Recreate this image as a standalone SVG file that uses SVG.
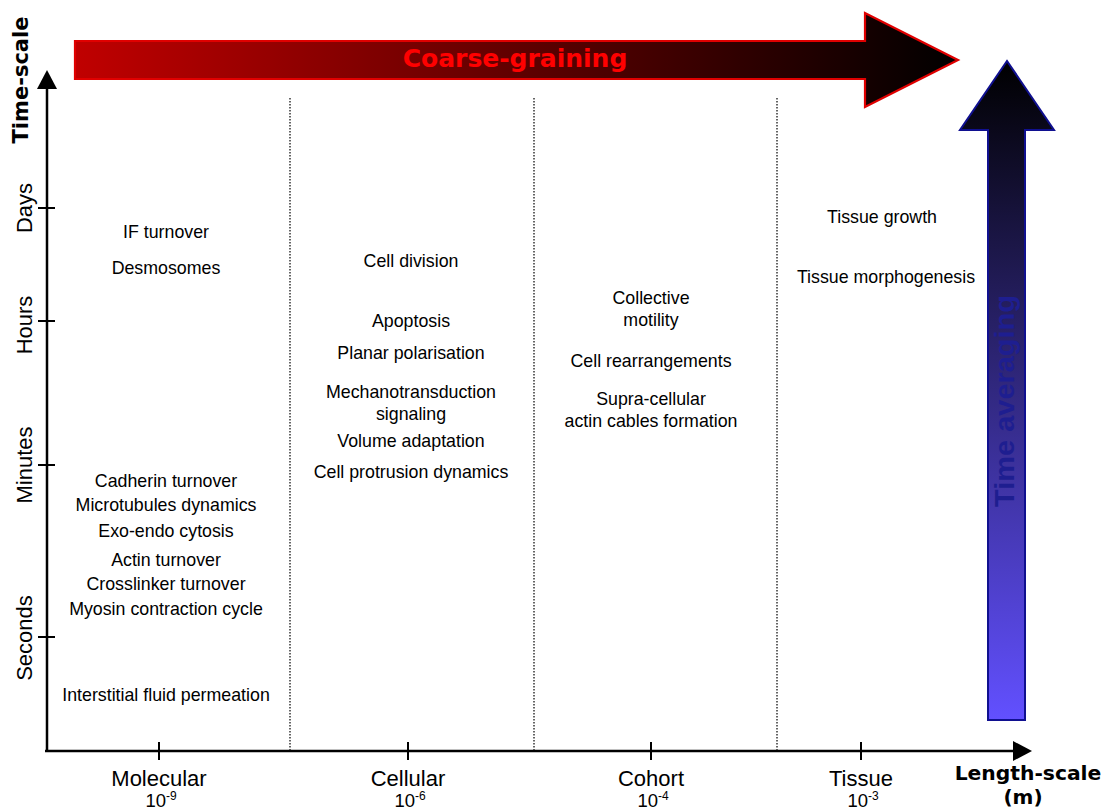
<svg xmlns="http://www.w3.org/2000/svg" width="1109" height="811" viewBox="0 0 1109 811">
<defs>
<linearGradient id="gRed" gradientUnits="userSpaceOnUse" x1="75" y1="0" x2="958" y2="0">
<stop offset="0" stop-color="#c00000"/>
<stop offset="1" stop-color="#000000"/>
</linearGradient>
<linearGradient id="gBlue" gradientUnits="userSpaceOnUse" x1="0" y1="61" x2="0" y2="720">
<stop offset="0" stop-color="#000000"/>
<stop offset="1" stop-color="#6250ff"/>
</linearGradient>
</defs>
<style>
.t{font-family:"Liberation Sans",Arial,sans-serif;font-size:17.8px;fill:#000;text-anchor:middle}
.ax{font-family:"Liberation Sans",Arial,sans-serif;font-size:22px;fill:#000;text-anchor:middle}
.ex{font-family:"Liberation Sans",Arial,sans-serif;font-size:18.5px;fill:#000;text-anchor:middle}
.bd{font-family:"DejaVu Sans",Verdana,sans-serif;font-weight:bold;fill:#000;text-anchor:middle}
.dot{stroke:#333;stroke-width:1.5;stroke-dasharray:1.5 1.5;fill:none}
.axis{stroke:#000;stroke-width:2.5;fill:none}
.tick{stroke:#000;stroke-width:2;fill:none}
</style>
<rect width="1109" height="811" fill="#fff"/>

<g id="coarse-graining">
<polygon points="75,41 865,41 865,13 958,60 865,107 865,79 75,79" fill="url(#gRed)" stroke="#e00000" stroke-width="2.2" stroke-linejoin="miter"/>
<text x="515" y="67" class="bd" style="font-size:25px;fill:#ff0000">Coarse-graining</text>
</g>

<g id="time-averaging">
<polygon points="988,720 988,130 960,130 1007,61 1054,130 1025,130 1025,720" fill="url(#gBlue)" stroke="#101090" stroke-width="2"/>
<text transform="translate(1014,401) rotate(-90)" style="font-family:'Liberation Sans',Arial,sans-serif;font-weight:bold;font-size:28px;fill:#1e1e90;text-anchor:middle" textLength="212" lengthAdjust="spacingAndGlyphs">Time averaging</text>
</g>

<g id="connectors">
<line class="axis" x1="47" y1="752" x2="47" y2="88"/>
<polygon points="37,89 47,70 57,89" fill="#000"/>
<line class="axis" x1="45" y1="751" x2="1014" y2="751"/>
<polygon points="1013,741 1032,751 1013,761" fill="#000"/>
<line class="tick" x1="38" y1="208" x2="55" y2="208"/>
<line class="tick" x1="38" y1="321" x2="55" y2="321"/>
<line class="tick" x1="38" y1="465" x2="55" y2="465"/>
<line class="tick" x1="38" y1="637" x2="55" y2="637"/>
<line class="tick" x1="159" y1="742" x2="159" y2="760"/>
<line class="tick" x1="408" y1="742" x2="408" y2="760"/>
<line class="tick" x1="651" y1="742" x2="651" y2="760"/>
<line class="tick" x1="861" y1="742" x2="861" y2="760"/>
<line class="dot" x1="290" y1="98" x2="290" y2="750"/>
<line class="dot" x1="534" y1="98" x2="534" y2="750"/>
<line class="dot" x1="777" y1="98" x2="777" y2="750"/>
</g>

<g id="axis-labels">
<text class="bd" transform="translate(28,80) rotate(-90)" style="font-size:21px">Time-scale</text>
<text class="ax" transform="translate(32,208) rotate(-90)">Days</text>
<text class="ax" transform="translate(32,325) rotate(-90)">Hours</text>
<text class="ax" transform="translate(32,465) rotate(-90)">Minutes</text>
<text class="ax" transform="translate(32,638) rotate(-90)">Seconds</text>
<text class="bd" x="1028" y="780" style="font-size:20.3px">Length-scale</text>
<text class="bd" x="1023" y="804" style="font-size:20px">(m)</text>
</g>

<g id="scale-molecular">
<text class="ax" x="159" y="786">Molecular</text>
<text class="ex" x="161" y="807">10<tspan font-size="12" dy="-7">-9</tspan></text>
</g>
<g id="scale-cellular">
<text class="ax" x="408" y="786">Cellular</text>
<text class="ex" x="410" y="807">10<tspan font-size="12" dy="-7">-6</tspan></text>
</g>
<g id="scale-cohort">
<text class="ax" x="651" y="786">Cohort</text>
<text class="ex" x="653" y="807">10<tspan font-size="12" dy="-7">-4</tspan></text>
</g>
<g id="scale-tissue">
<text class="ax" x="861" y="786">Tissue</text>
<text class="ex" x="863" y="807">10<tspan font-size="12" dy="-7">-3</tspan></text>
</g>

<g id="molecular-processes">
<text class="t" x="166" y="238">IF turnover</text>
<text class="t" x="166" y="274">Desmosomes</text>
<text class="t" x="166" y="487">Cadherin turnover</text>
<text class="t" x="166" y="511">Microtubules dynamics</text>
<text class="t" x="166" y="537">Exo-endo cytosis</text>
<text class="t" x="166" y="566">Actin turnover</text>
<text class="t" x="166" y="590">Crosslinker turnover</text>
<text class="t" x="166" y="615">Myosin contraction cycle</text>
<text class="t" x="166" y="701">Interstitial fluid permeation</text>
</g>

<g id="cellular-processes">
<text class="t" x="411" y="267">Cell division</text>
<text class="t" x="411" y="327">Apoptosis</text>
<text class="t" x="411" y="359">Planar polarisation</text>
<text class="t" x="411" y="398">Mechanotransduction</text>
<text class="t" x="411" y="420">signaling</text>
<text class="t" x="411" y="447">Volume adaptation</text>
<text class="t" x="411" y="478">Cell protrusion dynamics</text>
</g>

<g id="cohort-processes">
<text class="t" x="651" y="304">Collective</text>
<text class="t" x="651" y="326">motility</text>
<text class="t" x="651" y="367">Cell rearrangements</text>
<text class="t" x="651" y="405">Supra-cellular</text>
<text class="t" x="651" y="427">actin cables formation</text>
</g>

<g id="tissue-processes">
<text class="t" x="882" y="223">Tissue growth</text>
<text class="t" x="886" y="283">Tissue morphogenesis</text>
</g>
</svg>
